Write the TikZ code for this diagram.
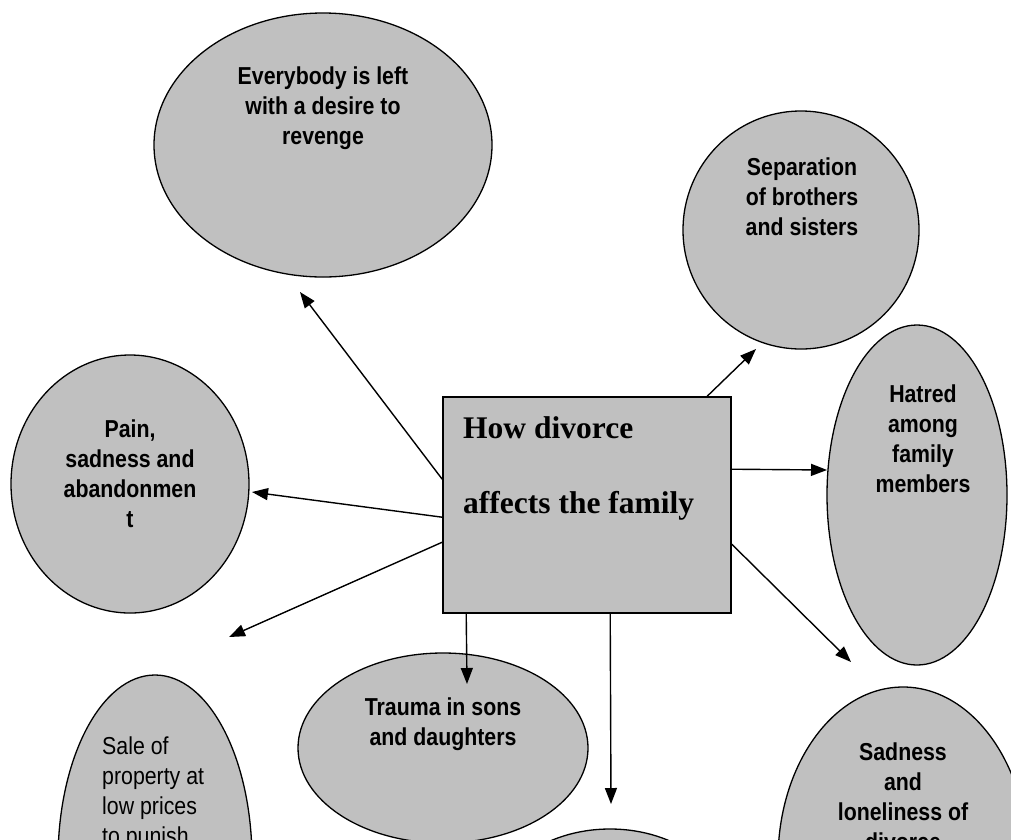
\documentclass[tikz,border=0pt]{standalone}
\usepackage{fontspec}
\setmainfont{Liberation Sans}[FakeStretch=0.87]
\newfontfamily\hubfont{Liberation Serif}
\usetikzlibrary{shapes.geometric,arrows.meta,calc}
\definecolor{bubblegray}{RGB}{192,192,192}
\tikzset{
  bubble/.style={ellipse, draw=black, line width=1.3pt, fill=bubblegray, inner sep=0pt},
  hubbox/.style={rectangle, draw=black, line width=1.6pt, fill=bubblegray, inner sep=0pt,
                 minimum width=288pt, minimum height=216pt},
  bubbletext/.style={inner sep=0pt, anchor=north, align=center,
                     font=\fontsize{24.5}{30}\selectfont\bfseries},
  link/.style={draw=black, line width=1.4pt, -{Triangle[length=16pt,width=12pt]}}
}
\begin{document}
\begin{tikzpicture}[x=1pt,y=-1pt]
  \useasboundingbox (0,0) rectangle (1011,839);
  \clip (0,0) rectangle (1011,839);

  % central box
  \node[hubbox] (hub) at (587,505) {};
  \node[inner sep=0pt, anchor=north west, align=left,
        font=\hubfont\fontsize{31.5}{75}\selectfont\bfseries]
       (hubtext) at (463,416) {How divorce\\affects the family};

  % surrounding bubbles
  \node[bubble, minimum width=338pt, minimum height=264pt] (revenge) at (323,145) {};
  \node[bubbletext] (revengetext) at (323,67) {Everybody is left\\with a desire to\\revenge};

  \node[bubble, minimum width=236pt, minimum height=238pt] (siblings) at (801,230) {};
  \node[bubbletext] (siblingstext) at (802,158) {Separation\\of brothers\\and sisters};

  \node[bubble, minimum width=238pt, minimum height=258pt] (pain) at (130,484) {};
  \node[bubbletext] (paintext) at (130,420) {Pain,\\sadness and\\abandonmen\\t};

  \node[bubble, minimum width=180pt, minimum height=340pt] (hatred) at (917,495) {};
  \node[bubbletext] (hatredtext) at (923,385) {Hatred\\among\\family\\members};

  \node[bubble, minimum width=250pt, minimum height=346pt] (lonely) at (903,860) {};
  \node[bubbletext] (lonelytext) at (903,743) {Sadness\\and\\loneliness of\\divorce};

  \node[bubble, minimum width=194pt, minimum height=370pt] (sale) at (155,860) {};
  \node[inner sep=0pt, anchor=north west, align=left,
        font=\fontsize{24.5}{30}\selectfont] (saletext) at (102,737)
       {Sale of\\property at\\low prices\\to punish};

  \node[bubble, minimum width=290pt, minimum height=190pt] (trauma) at (443,748) {};
  \node[bubbletext] (traumatext) at (443,698) {Trauma in sons\\and daughters};

  \node[bubble, minimum width=240pt, minimum height=180pt] (lower) at (610,919) {};

  % arrow ends
  \coordinate (tipA) at (300,292);
  \coordinate (tipB) at (252,492);
  \coordinate (tipC) at (229,637);
  \coordinate (tipD) at (467,684);
  \coordinate (tipE) at (611,804);
  \coordinate (tipF) at (851,662);
  \coordinate (tipG) at (827,470);
  \coordinate (tipH) at (756,349);

  % connectors from the box
  \draw[link] ($(hub.north west)+(0,83)$) -- (tipA);
  \draw[link] ($(hub.north west)+(0,121)$) -- (tipB);
  \draw[link] ($(hub.north west)+(0,146)$) -- (tipC);
  \draw[link] ($(hub.south west)+(24,0)$) -- (tipD);
  \draw[link] ($(hub.south west)+(168,0)$) -- (tipE);
  \draw[link] ($(hub.north east)+(0,148)$) -- (tipF);
  \draw[link] ($(hub.north east)+(0,73)$) -- (tipG);
  \draw[link] ($(hub.north west)+(265,0)$) -- (tipH);
\end{tikzpicture}
\end{document}
